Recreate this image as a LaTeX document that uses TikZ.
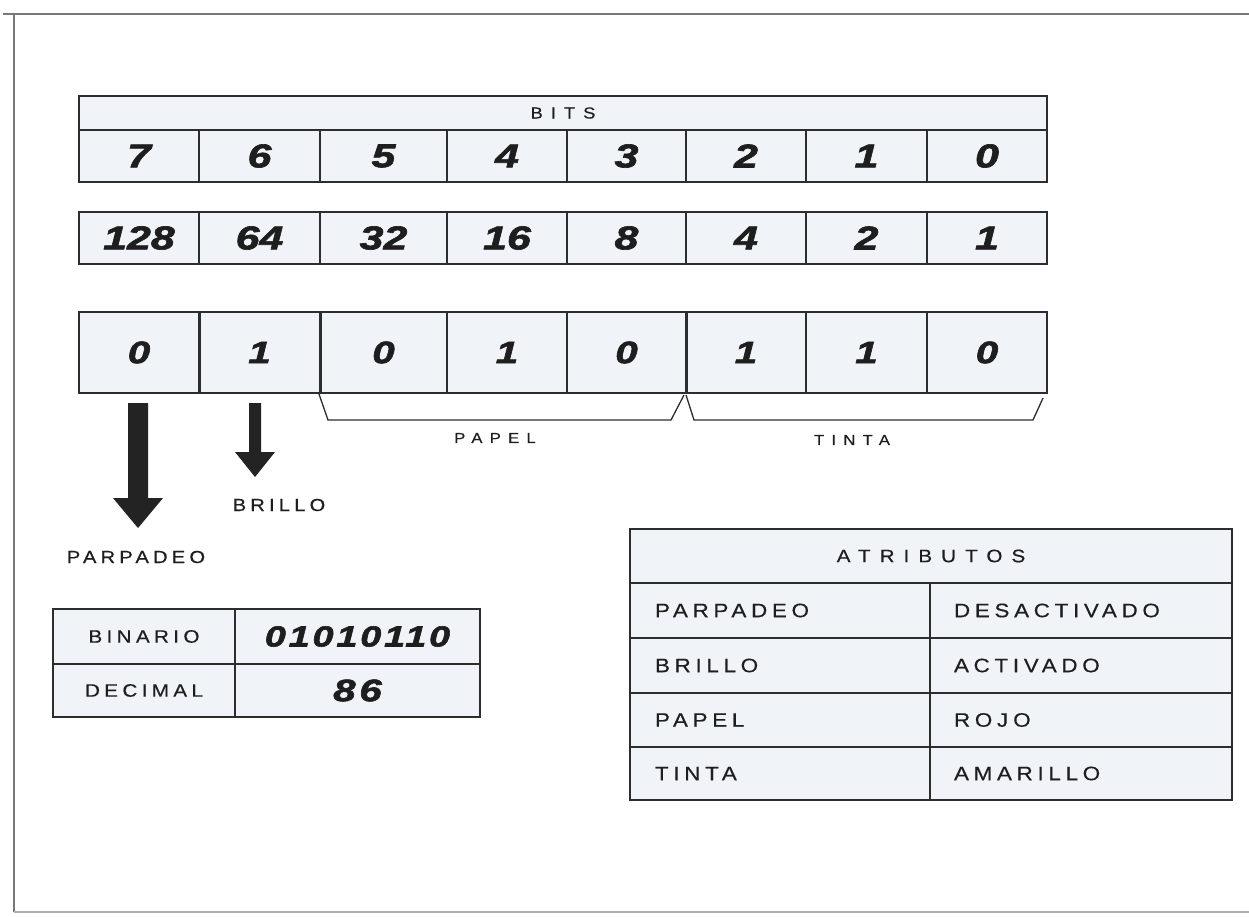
\documentclass[tikz,border=0pt]{standalone}
\usepackage{fontspec}
\setmainfont{Liberation Sans}
\newfontfamily\digf[FakeStretch=1.3,BoldItalicFeatures={FakeBold=2}]{Liberation Sans}
\newfontfamily\labA[FakeStretch=1.15,LetterSpace=24,FakeBold=0.4]{Liberation Sans}
\newfontfamily\labB[FakeStretch=1.15,LetterSpace=50,FakeBold=0.4]{Liberation Sans}
\definecolor{linec}{RGB}{45,45,45}
\definecolor{txtc}{RGB}{30,30,30}
\definecolor{cellc}{RGB}{240,244,248}
\definecolor{framec}{RGB}{120,120,120}
\definecolor{arrc}{RGB}{35,35,35}
\begin{document}
\begin{tikzpicture}[x=1pt,y=-1pt,
  cell/.style={draw=linec, line width=1.4pt, fill=cellc, inner sep=0pt, outer sep=0pt, text=txtc, anchor=north west},
  dig/.style={font=\digf\bfseries\itshape\fontsize{33}{33}\selectfont},
  vdig/.style={font=\digf\bfseries\itshape\fontsize{31}{31}\selectfont},
  labsmall/.style={text=txtc, inner sep=0pt, font=\labB\fontsize{14.5}{14.5}\selectfont},
  labmid/.style={text=txtc, inner sep=0pt, font=\labA\fontsize{17.5}{17.5}\selectfont},
  tlab/.style={font=\labA\fontsize{18}{18}\selectfont},
  alab/.style={font=\labA\fontsize{19.5}{19.5}\selectfont, align=left},
  thick divider/.style={draw=linec, line width=3pt},
  bracketline/.style={draw=linec, line width=1.3pt},
  fatarrow/.style={fill=arrc}]
\useasboundingbox (0,0) rectangle (1249,917);
\fill[white] (0,0) rectangle (1249,917);
% frame
\draw[framec, line width=1.6pt] (3,14) -- (1249,14);
\draw[framec, line width=1.6pt] (14,14) -- (14,912);
\draw[framec!60, line width=1.2pt] (14,912) -- (1249,912);
% BITS header
\node[cell, minimum width=968, minimum height=34, font=\labB\fontsize{16}{16}\selectfont] (bitshdr) at (79,96) {BITS};
% rows
\foreach \a/\b/\d/\w/\v [count=\i] in {79/199/7/128/0, 199/320/6/64/1, 320/447/5/32/0, 447/567/4/16/1, 567/686/3/8/0, 686/806/2/4/1, 806/927/1/2/1, 927/1047/0/1/0}{
  \node[cell, dig, minimum width={\b-\a}, minimum height=52] (bit\i) at (\a,130) {\d};
  \node[cell, dig, minimum width={\b-\a}, minimum height=52] (wt\i) at (\a,212) {\w};
  \node[cell, vdig, minimum width={\b-\a}, minimum height=81] (val\i) at (\a,312) {\v};
}
\foreach \i in {1,2,5}{
  \draw[thick divider] (val\i.north east) -- (val\i.south east);
}
% brackets
\coordinate (pA) at (319,394);
\coordinate (pB) at (328,420);
\coordinate (pC) at (671,420);
\coordinate (pD) at (684,395);
\coordinate (tA) at (686,395);
\coordinate (tB) at (694,420);
\coordinate (tC) at (1033,420);
\coordinate (tD) at (1043,398);
\draw[bracketline] (pA) -- (pB) -- (pC) -- (pD);
\draw[bracketline] (tA) -- (tB) -- (tC) -- (tD);
\node[labsmall] (papel) at (495,438) {PAPEL};
\node[labsmall] (tinta) at (852,440) {TINTA};
% arrows
\fill[fatarrow] (128,403) -- (148,403) -- (148,498) -- (163,498) -- (138,528) -- (113,498) -- (128,498) -- cycle;
\fill[fatarrow] (249,403) -- (261,403) -- (261,452) -- (275,452) -- (255,477) -- (235,452) -- (249,452) -- cycle;
\node[labmid] (brillo) at (279,505) {BRILLO};
\node[labmid] (parpadeo) at (136,557) {PARPADEO};
% binary table
\node[cell, tlab, minimum width=182, minimum height=55] (binl) at (53,609) {BINARIO};
\node[cell, font=\digf\bfseries\itshape\fontsize{29}{29}\selectfont\addfontfeatures{LetterSpace=10}, minimum width=245, minimum height=55] (binr) at (235,609) {01010110};
\node[cell, tlab, minimum width=182, minimum height=53] (decl) at (53,664) {DECIMAL};
\node[cell, font=\digf\bfseries\itshape\fontsize{31}{31}\selectfont\addfontfeatures{LetterSpace=12}, minimum width=245, minimum height=53] (decr) at (235,664) {86};
% attributes table
\node[cell, font=\labB\fontsize{18}{18}\selectfont, minimum width=602, minimum height=54] (ahdr) at (630,529) {ATRIBUTOS};
\foreach \y/\h/\l/\r [count=\i] in {583/55/PARPADEO/DESACTIVADO, 638/55/BRILLO/ACTIVADO, 693/54/PAPEL/ROJ\kern5pt O, 747/53/TINTA/AMARILLO}{
  \node[cell, alab, inner xsep=25pt, text width=250pt, minimum height=\h] (al\i) at (630,\y) {\l};
  \node[cell, alab, inner xsep=24pt, text width=254pt, minimum height=\h] (ar\i) at (930,\y) {\r};
}
\end{tikzpicture}
\end{document}
